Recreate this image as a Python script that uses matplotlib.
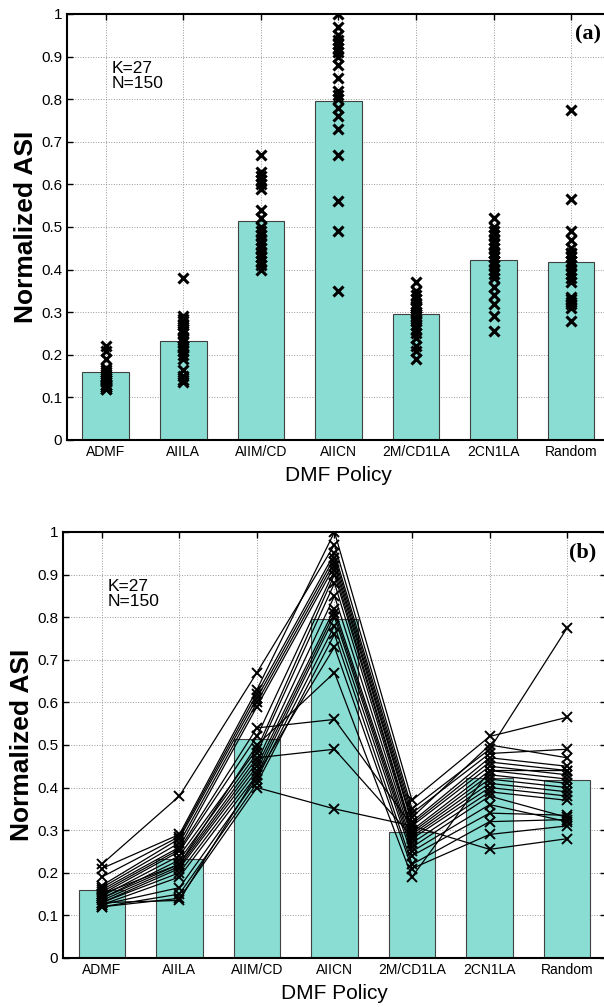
import numpy as np
import matplotlib.pyplot as plt

# categories and bar heights
policies = ['ADMF', 'AIILA', 'AIIM/CD', 'AIICN', '2M/CD1LA', '2CN1LA', 'Random']
bar_heights = [0.160, 0.233, 0.514, 0.796, 0.295, 0.422, 0.417]

# per-trial values for every policy (index = trial)
admf = [0.22, 0.21, 0.19, 0.17, 0.165, 0.16, 0.155, 0.15, 0.145, 0.14,
        0.14, 0.135, 0.13, 0.13, 0.125, 0.125, 0.12, 0.12, 0.13, 0.15]
aiila = [0.38, 0.29, 0.285, 0.28, 0.27, 0.26, 0.255, 0.25, 0.24, 0.23,
         0.22, 0.215, 0.21, 0.20, 0.19, 0.165, 0.15, 0.14, 0.135, 0.22]
aiim_cd = [0.67, 0.63, 0.62, 0.61, 0.60, 0.59, 0.54, 0.52, 0.49, 0.48,
           0.47, 0.46, 0.45, 0.44, 0.43, 0.42, 0.41, 0.40, 0.43, 0.50]
aiicn = [0.97, 1.00, 0.95, 0.94, 0.93, 0.92, 0.56, 0.91, 0.90, 0.88,
         0.49, 0.85, 0.82, 0.81, 0.80, 0.78, 0.76, 0.35, 0.73, 0.67]
m2_cd1la = [0.35, 0.37, 0.34, 0.33, 0.32, 0.315, 0.31, 0.30, 0.295, 0.29,
            0.285, 0.28, 0.27, 0.26, 0.25, 0.24, 0.22, 0.31, 0.21, 0.19]
cn2_1la = [0.49, 0.52, 0.48, 0.50, 0.47, 0.46, 0.45, 0.44, 0.43, 0.42,
           0.41, 0.40, 0.39, 0.38, 0.36, 0.34, 0.32, 0.255, 0.29, 0.44]
random_p = [0.775, 0.565, 0.49, 0.47, 0.45, 0.44, 0.43, 0.42, 0.41, 0.40,
            0.39, 0.38, 0.37, 0.33, 0.32, 0.335, 0.325, 0.28, 0.31, 0.44]

trials = np.array([admf, aiila, aiim_cd, aiicn, m2_cd1la, cn2_1la, random_p]).T

plt.rcParams['font.family'] = ['Liberation Sans', 'DejaVu Sans']

fig = plt.figure(figsize=(6.04, 10.07), dpi=100)
ax_a = fig.add_axes([0.1109, 0.5631, 0.899, 0.4230])
ax_b = fig.add_axes([0.1043, 0.0487, 0.899, 0.4230])

x = np.arange(1, len(policies) + 1)

for ax, tag, joined in [(ax_a, '(a)', False), (ax_b, '(b)', True)]:
    ax.bar(x, bar_heights, width=0.6, color='#8ADDD3', edgecolor='#404040',
           linewidth=0.8, zorder=2)
    if joined:
        for row in trials:
            ax.plot(x, row, '-x', color='black', lw=0.9, ms=7.5, mew=1.4, zorder=3)
    else:
        for i in range(len(policies)):
            ax.plot(np.full(trials.shape[0], x[i]), trials[:, i], 'x',
                    color='black', ms=7.5, mew=2.2, zorder=3)

    ax.set_xlim(0.5, 7.5)
    ax.set_ylim(0, 1)
    ax.set_xticks(x)
    ax.set_xticklabels(policies, fontsize=10)
    ax.set_yticks(np.arange(0, 1.01, 0.1))
    ax.set_yticklabels(['0', '0.1', '0.2', '0.3', '0.4', '0.5', '0.6', '0.7',
                        '0.8', '0.9', '1'], fontsize=11)
    ax.tick_params(direction='in', top=True, right=True, length=4, width=1)
    ax.grid(True, linestyle=':', color='#999999', linewidth=0.7, zorder=0)
    ax.set_axisbelow(True)
    for s in ax.spines.values():
        s.set_linewidth(1.5)
    ax.set_xlabel('DMF Policy', fontsize=15, labelpad=5)
    ax.set_ylabel('Normalized ASI', fontsize=19, fontweight='bold', labelpad=2)
    ax.text(1.08, 0.89, 'K=27\nN=150', fontsize=12.5, va='top', ha='left',
            linespacing=1.05)
    ax.text(7.38, 0.975, tag, fontsize=16, fontweight='bold', va='top',
            ha='right', family='Liberation Serif')

fig.savefig('out.png', dpi=100)
